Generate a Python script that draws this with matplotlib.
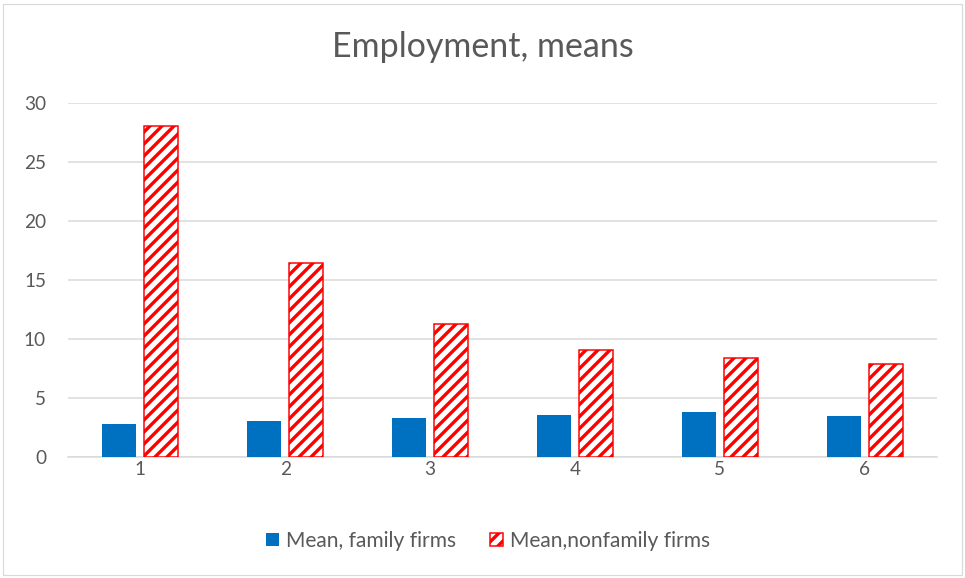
import matplotlib.pyplot as plt
import numpy as np
from matplotlib.patches import Rectangle

# values
categories = ["1", "2", "3", "4", "5", "6"]
family = [2.83, 3.05, 3.31, 3.54, 3.82, 3.51]
nonfamily = [28.05, 16.47, 11.24, 9.05, 8.35, 7.84]
y_ticks = [0, 5, 10, 15, 20, 25, 30]

plt.rcParams["font.family"] = ["Lato", "DejaVu Sans"]
plt.rcParams["hatch.linewidth"] = 3.4

text_col = "#595959"
grid_col = "#d9d9d9"

fig = plt.figure(figsize=(965 / 72, 578 / 72), dpi=72)
ax = fig.add_axes([68 / 965, 1 - 457 / 578, (937 - 68) / 965, (457 - 103) / 578])

x = np.arange(len(categories))
w = 0.235
ax.bar(x - 0.145, family, w, color="#0070C0", label="Mean, family firms", zorder=3)
ax.bar(x + 0.145, nonfamily, w, facecolor="white", edgecolor="#FF0000",
       hatch="//", linewidth=1.5, label="Mean,nonfamily firms", zorder=3)

ax.set_xlim(-0.5, len(categories) - 0.5)
ax.set_ylim(0, 30)
ax.set_yticks(y_ticks)
ax.set_xticks(x)
ax.set_xticklabels(categories)
ax.yaxis.grid(True, color=grid_col, linewidth=1.5, zorder=0)
ax.set_axisbelow(True)
for s in ["top", "right", "left"]:
    ax.spines[s].set_visible(False)
ax.spines["bottom"].set_color(grid_col)
ax.spines["bottom"].set_linewidth(1.5)
ax.tick_params(length=0, labelsize=19, labelcolor=text_col)
ax.tick_params(axis="y", pad=22)
ax.tick_params(axis="x", pad=4)

fig.text(0.5, 1 - 47 / 578, "Employment, means", ha="center", va="center",
         fontsize=34, color=text_col)

leg = fig.legend(loc="center", bbox_to_anchor=(0.506, 1 - 541 / 578), ncol=2,
                 frameon=False, fontsize=21, handlelength=0.62, handleheight=0.62,
                 handletextpad=0.33, columnspacing=1.6)
for t in leg.get_texts():
    t.set_color(text_col)

fig.patches.append(Rectangle((3 / 965, 3 / 578), 959 / 965, 571 / 578,
                             transform=fig.transFigure, fill=False,
                             edgecolor=grid_col, linewidth=1.2))

fig.savefig("out.png", dpi=72)
